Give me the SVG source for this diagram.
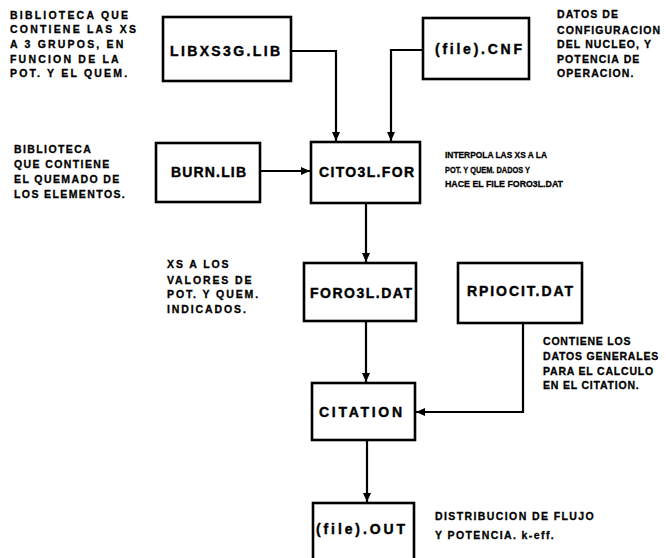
<svg xmlns="http://www.w3.org/2000/svg" width="666" height="558" viewBox="0 0 666 558">
<style>
  .box { fill: #fff; stroke: #000; stroke-width: 2.6; }
  .lbl { font-family: "Liberation Sans", Arial, sans-serif; font-weight: bold; font-size: 14px; fill: #000; stroke: #000; stroke-width: 0.4; }
  .dsc { font-family: "Liberation Sans", Arial, sans-serif; font-weight: bold; font-size: 10.5px; fill: #000; stroke: #000; stroke-width: 0.3; }
  .con { fill: none; stroke: #000; stroke-width: 2.2; }
</style>
<defs>
  <marker id="arr" markerUnits="userSpaceOnUse" markerWidth="10" markerHeight="10" refX="9" refY="5" orient="auto">
    <path d="M0,1 L9,5 L0,9 Z" fill="#000"/>
  </marker>
</defs>
<rect width="666" height="558" fill="#fff"/>

<g id="connectors">
  <polyline class="con" points="291,51 336,51 336,141" marker-end="url(#arr)"/>
  <polyline class="con" points="423,50 391,50 391,141" marker-end="url(#arr)"/>
  <polyline class="con" points="260,171 310,171" marker-end="url(#arr)"/>
  <polyline class="con" points="366,203 366,262" marker-end="url(#arr)"/>
  <polyline class="con" points="366,321 366,382" marker-end="url(#arr)"/>
  <polyline class="con" points="523,323 523,412 416,412" marker-end="url(#arr)"/>
  <polyline class="con" points="367,440 367,502" marker-end="url(#arr)"/>
</g>

<g id="libxs3g">
  <rect class="box" x="163" y="17" width="128" height="64"/>
  <text class="lbl" x="170" y="56" textLength="110" lengthAdjust="spacing">LIBXS3G.LIB</text>
</g>
<g id="filecnf">
  <rect class="box" x="423" y="18" width="106" height="61"/>
  <text class="lbl" x="435" y="54" textLength="87" lengthAdjust="spacing">(file).CNF</text>
</g>
<g id="burnlib">
  <rect class="box" x="156" y="143" width="104" height="59"/>
  <text class="lbl" x="171" y="177" textLength="75" lengthAdjust="spacing">BURN.LIB</text>
</g>
<g id="cito3lfor">
  <rect class="box" x="311" y="142" width="109" height="61"/>
  <text class="lbl" x="319" y="177" textLength="95" lengthAdjust="spacing">CITO3L.FOR</text>
</g>
<g id="foro3ldat">
  <rect class="box" x="304" y="263" width="112" height="58"/>
  <text class="lbl" x="310" y="298" textLength="102" lengthAdjust="spacing">FORO3L.DAT</text>
</g>
<g id="rpiocitdat">
  <rect class="box" x="458" y="263" width="124" height="60"/>
  <text class="lbl" x="467" y="296" textLength="106" lengthAdjust="spacing">RPIOCIT.DAT</text>
</g>
<g id="citation">
  <rect class="box" x="312" y="383" width="103" height="57"/>
  <text class="lbl" x="319" y="417" textLength="83" lengthAdjust="spacing">CITATION</text>
</g>
<g id="fileout">
  <rect class="box" x="313" y="503" width="101" height="60"/>
  <text class="lbl" x="316" y="534" textLength="89" lengthAdjust="spacing">(file).OUT</text>
</g>

<g id="notes">
  <text class="dsc" x="10" y="19" style="letter-spacing:2.2px">BIBLIOTECA QUE</text>
  <text class="dsc" x="10" y="33" style="letter-spacing:2.2px">CONTIENE LAS XS</text>
  <text class="dsc" x="10" y="48" style="letter-spacing:2.2px">A 3 GRUPOS, EN</text>
  <text class="dsc" x="10" y="63" style="letter-spacing:2.2px">FUNCION DE LA</text>
  <text class="dsc" x="10" y="77" style="letter-spacing:2.2px">POT. Y EL QUEM.</text>

  <text class="dsc" x="557" y="18" style="letter-spacing:1.1px">DATOS DE</text>
  <text class="dsc" x="557" y="34" style="letter-spacing:1.1px">CONFIGURACION</text>
  <text class="dsc" x="557" y="48" style="letter-spacing:1.1px">DEL NUCLEO, Y</text>
  <text class="dsc" x="557" y="63" style="letter-spacing:1.1px">POTENCIA DE</text>
  <text class="dsc" x="557" y="77" style="letter-spacing:1.1px">OPERACION.</text>

  <text class="dsc" x="14" y="153" style="letter-spacing:1.4px">BIBLIOTECA</text>
  <text class="dsc" x="14" y="168" style="letter-spacing:1.4px">QUE CONTIENE</text>
  <text class="dsc" x="14" y="183" style="letter-spacing:1.4px">EL QUEMADO DE</text>
  <text class="dsc" x="14" y="198" style="letter-spacing:1.4px">LOS ELEMENTOS.</text>

  <text class="dsc" x="445" y="158" style="font-size:9.5px" textLength="102" lengthAdjust="spacingAndGlyphs">INTERPOLA LAS XS A LA</text>
  <text class="dsc" x="445" y="173" style="font-size:9.5px" textLength="85" lengthAdjust="spacingAndGlyphs">POT. Y QUEM. DADOS Y</text>
  <text class="dsc" x="445" y="187" style="font-size:9.5px" textLength="118" lengthAdjust="spacingAndGlyphs">HACE  EL  FILE FORO3L.DAT</text>

  <text class="dsc" x="167" y="268" style="letter-spacing:1.9px">XS A LOS</text>
  <text class="dsc" x="167" y="284" style="letter-spacing:1.9px">VALORES DE</text>
  <text class="dsc" x="167" y="298" style="letter-spacing:1.9px">POT. Y QUEM.</text>
  <text class="dsc" x="167" y="313" style="letter-spacing:1.9px">INDICADOS.</text>

  <text class="dsc" x="543" y="345" style="letter-spacing:0.8px">CONTIENE LOS</text>
  <text class="dsc" x="543" y="360" style="letter-spacing:0.8px">DATOS GENERALES</text>
  <text class="dsc" x="543" y="375" style="letter-spacing:0.8px">PARA EL CALCULO</text>
  <text class="dsc" x="543" y="389" style="letter-spacing:0.8px">EN EL CITATION.</text>

  <text class="dsc" x="435" y="520" style="letter-spacing:1.4px">DISTRIBUCION DE FLUJO</text>
  <text class="dsc" x="435" y="539" style="letter-spacing:1.4px">Y POTENCIA. k-eff.</text>
</g>
</svg>
